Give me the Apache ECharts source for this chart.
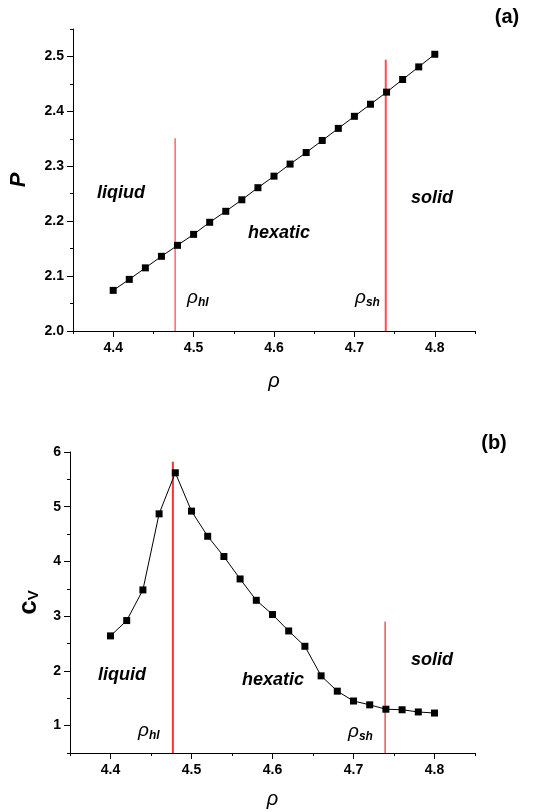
<!DOCTYPE html>
<html>
<head>
<meta charset="utf-8">
<script src="https://cdn.jsdelivr.net/npm/echarts@6/dist/echarts.min.js"></script>
<style>
html,body{margin:0;padding:0;background:#fff;}
#chart{width:534px;height:812px;}
</style>
</head>
<body>
<div id="chart"></div>
<script>
// ---- data ----
const rho = [4.40,4.42,4.44,4.46,4.48,4.50,4.52,4.54,4.56,4.58,4.60,4.62,4.64,4.66,4.68,4.70,4.72,4.74,4.76,4.78,4.80];
const pressure = [2.074,2.094,2.115,2.136,2.156,2.176,2.198,2.218,2.239,2.261,2.282,2.304,2.325,2.347,2.369,2.391,2.413,2.435,2.458,2.481,2.504];
const heatCapacity = [2.64,2.92,3.48,4.87,5.62,4.92,4.46,4.09,3.68,3.29,3.03,2.73,2.45,1.91,1.63,1.45,1.38,1.30,1.29,1.25,1.23];
const boundaryRho = [4.477, 4.739];          // rho_hl, rho_sh
const boundaryTopP = [2.351, 2.494];         // top of red lines, panel (a)
const boundaryTopCv = [5.82, 2.90];          // top of red lines, panel (b)
const xTickLabels = [4.4, 4.5, 4.6, 4.7, 4.8];
const pTickLabels = [2.0, 2.1, 2.2, 2.3, 2.4, 2.5];
const cvTickLabels = [1, 2, 3, 4, 5, 6];

const FONT = '"Liberation Sans", Arial, sans-serif';
const black = '#000';

function mainX(gridIndex, nameGap) {
  return {
    type: 'value', gridIndex, min: 4.35, max: 4.85, position: 'bottom',
    name: 'ρ', nameLocation: 'middle', nameGap,
    nameTextStyle: { fontFamily: FONT, fontStyle: 'italic', fontSize: 20, color: black },
    axisLine: { show: true, onZero: false, lineStyle: { color: black, width: 1 } },
    axisTick: { show: true, inside: false, length: 6, customValues: xTickLabels, lineStyle: { color: black } },
    axisLabel: { show: true, customValues: xTickLabels, margin: 10, fontFamily: FONT, fontWeight: 'bold', fontSize: 14, color: black,
      formatter: v => v.toFixed(1) },
    splitLine: { show: false }
  };
}
function minorX(gridIndex) {
  return {
    type: 'value', gridIndex, min: 4.35, max: 4.85, interval: 0.05, position: 'bottom', offset: 0,
    axisLine: { show: false }, axisLabel: { show: false },
    axisTick: { show: true, inside: false, length: 3, lineStyle: { color: black } },
    splitLine: { show: false }
  };
}
function minorY(gridIndex, min, max, interval) {
  return {
    type: 'value', gridIndex, min, max, interval, position: 'left', offset: 0,
    axisLine: { show: false }, axisLabel: { show: false },
    axisTick: { show: true, inside: false, length: 3, lineStyle: { color: black } },
    splitLine: { show: false }
  };
}

const seriesStyle = {
  type: 'line', symbol: 'rect', symbolSize: 7,
  itemStyle: { color: black }, lineStyle: { color: black, width: 1 }, z: 5
};

function vline(xi, yi, x, y0, y1, color, width) {
  return {
    type: 'line', xAxisIndex: xi, yAxisIndex: yi, symbol: 'none', silent: true,
    data: [[x, y0], [x, y1]], lineStyle: { color, width }, z: 3
  };
}

const phaseFont = 'italic bold 18px ' + FONT;
function txt(text, x, y, font) {
  return { type: 'text', x, y, style: { text, font: font || phaseFont, fill: black, align: 'center', verticalAlign: 'middle' } };
}
function rhoSub(sub, x, y) {
  return {
    type: 'text', x, y,
    style: {
      text: '{r|ρ}{s|' + sub + '}', align: 'left', verticalAlign: 'middle',
      rich: {
        r: { font: 'italic 19px ' + FONT, fill: black },
        s: { font: 'italic bold 12px ' + FONT, fill: black, padding: [10, 0, 0, 0] }
      }
    }
  };
}

const option = {
  animation: false,
  backgroundColor: '#fff',
  grid: [
    { left: 71, right: 59, top: 29, height: 302 },
    { left: 70, right: 59, top: 452, height: 301 }
  ],
  xAxis: [ mainX(0, 40), minorX(0), mainX(1, 36), minorX(1) ],
  yAxis: [
    {
      type: 'value', gridIndex: 0, min: 2.0, max: 2.55,
      name: 'P', nameLocation: 'middle', nameGap: 43, nameRotate: 90,
      nameTextStyle: { fontFamily: FONT, fontStyle: 'italic', fontWeight: 'bold', fontSize: 22, color: black },
      axisLine: { show: true, onZero: false, lineStyle: { color: black } },
      axisTick: { show: true, inside: false, length: 6, customValues: pTickLabels, lineStyle: { color: black } },
      axisLabel: { customValues: pTickLabels, margin: 9, fontFamily: FONT, fontWeight: 'bold', fontSize: 14, color: black, formatter: v => v.toFixed(1) },
      splitLine: { show: false }
    },
    {
      type: 'value', gridIndex: 1, min: 0.5, max: 6,
      name: '{c|c}{v|V}', nameLocation: 'middle', nameGap: 28, nameRotate: 90,
      nameTextStyle: { color: black, rich: {
        c: { fontFamily: FONT, fontWeight: 'bold', fontSize: 26, color: black },
        v: { fontFamily: FONT, fontWeight: 'bold', fontSize: 15, color: black, padding: [10, 0, 0, 0] }
      } },
      axisLine: { show: true, onZero: false, lineStyle: { color: black } },
      axisTick: { show: true, inside: false, length: 6, customValues: cvTickLabels, lineStyle: { color: black } },
      axisLabel: { customValues: cvTickLabels, margin: 9, fontFamily: FONT, fontWeight: 'bold', fontSize: 14, color: black },
      splitLine: { show: false }
    },
    minorY(1, 0.5, 6, 0.5),
    minorY(0, 2.0, 2.55, 0.05)
  ],
  series: [
    Object.assign({}, seriesStyle, { xAxisIndex: 0, yAxisIndex: 0, data: rho.map((r, i) => [r, pressure[i]]) }),
    Object.assign({}, seriesStyle, { xAxisIndex: 2, yAxisIndex: 1, data: rho.map((r, i) => [r, heatCapacity[i]]) }),
    vline(0, 0, boundaryRho[0], 2.0, boundaryTopP[0], '#ff1a1a', 1),
    vline(0, 0, boundaryRho[1], 2.0, boundaryTopP[1], '#ff4d4d', 2),
    vline(2, 1, boundaryRho[0], 0.5, boundaryTopCv[0], '#ff3030', 2),
    vline(2, 1, boundaryRho[1], 0.5, boundaryTopCv[1], '#e00000', 1)
  ],
  graphic: [
    txt('(a)', 507, 17, 'bold 20px ' + FONT),
    txt('(b)', 494, 443, 'bold 20px ' + FONT),
    txt('liqiud', 121, 193),
    txt('hexatic', 279, 233),
    txt('solid', 432, 198),
    txt('liquid', 122, 675),
    txt('hexatic', 273, 680),
    txt('solid', 432, 660),
    rhoSub('hl', 187, 298),
    rhoSub('sh', 355, 298),
    rhoSub('hl', 138, 731),
    rhoSub('sh', 348, 732)
  ]
};

const chart = echarts.init(document.getElementById('chart'), null, { renderer: 'canvas' });
chart.setOption(option);
</script>
</body>
</html>
